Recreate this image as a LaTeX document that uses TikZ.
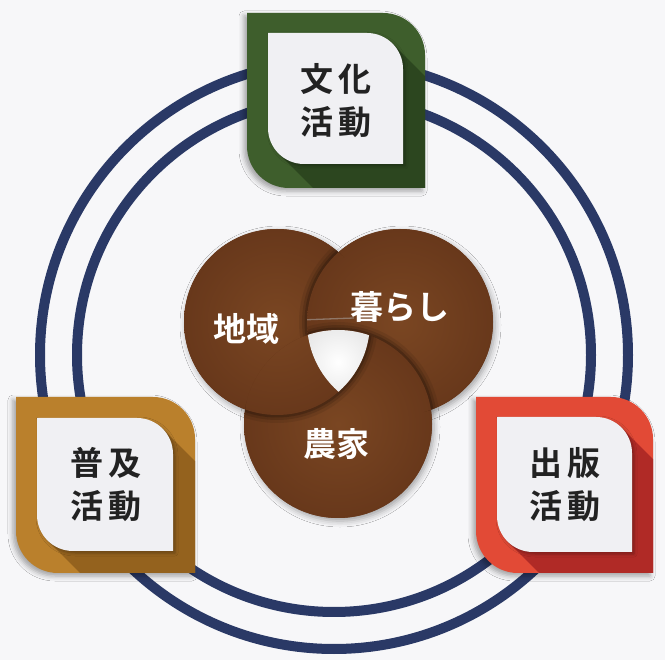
\documentclass[tikz,border=0pt]{standalone}
\usepackage{fontspec}
\newfontfamily\cjkb{Noto Sans CJK JP Bold}
\usetikzlibrary{shadows.blur}
\definecolor{bg}{RGB}{247,247,249}
\definecolor{ringc}{RGB}{42,57,102}
\definecolor{brn}{RGB}{104,56,27}
\definecolor{brnl}{RGB}{122,70,34}
\definecolor{grn}{RGB}{62,94,44}
\definecolor{grnd}{RGB}{44,70,31}
\definecolor{gld}{RGB}{186,128,44}
\definecolor{gldd}{RGB}{148,98,30}
\definecolor{redc}{RGB}{226,74,54}
\definecolor{redd}{RGB}{176,42,38}
\definecolor{panelc}{RGB}{240,240,243}
\definecolor{txtc}{RGB}{34,34,34}
\newcommand\leaf[5]{(#1,#2) -- ({#3-#5},#2) .. controls ({#3-0.4477*#5},#2) and (#3,{#2+0.4477*#5}) .. (#3,{#2+#5}) -- (#3,#4) -- ({#1+#5},#4) .. controls ({#1+0.4477*#5},#4) and (#1,{#4-0.4477*#5}) .. (#1,{#4-#5}) -- cycle}
\newcommand\sweep[5]{({#3-0.2929*#5},{#2+0.2929*#5}) -- ({#3-0.2929*#5+250},{#2+0.2929*#5+250}) -- ({#1+0.2929*#5+250},{#4-0.2929*#5+250}) -- ({#1+0.2929*#5},{#4-0.2929*#5}) -- cycle}
\newcommand\cL{(277,322) circle[radius=93]}
\newcommand\cR{(400,322) circle[radius=93]}
\newcommand\cB{(338,424) circle[radius=94]}
\tikzset{
  boxtxt/.style={font=\cjkb\fontsize{33}{43}\selectfont, align=center, text=txtc, inner sep=0pt},
  cirtxt/.style={font=\cjkb\fontsize{33}{40}\selectfont, text=white, inner sep=0pt},
  cfill/.style={inner color=brnl, outer color=brn},
  ringline/.style={draw=ringc, line width=10pt},
}
\begin{document}
\begin{tikzpicture}[x=1pt,y=-1pt]
\fill[bg] (0,0) rectangle (665,660);
\useasboundingbox (0,0) rectangle (665,660);
% rings
\draw[ringline] (334,355) circle[radius=294];
\draw[ringline] (334,355) circle[radius=257];
% boxes
\foreach \a/\b/\c/\d/\p/\q/\s/\t/\col/\dk in {247/13/425/188/268/33/403/164/grn/grnd, 16/397/195/573/37/418/173/551/gld/gldd, 476/397/653/573/497/417/632/552/redc/redd} {
  \fill[\col, blur shadow={shadow xshift=-3pt, shadow yshift=-3pt, shadow blur radius=5pt, shadow opacity=35}] \leaf{\a}{\b}{\c}{\d}{42};
  \begin{scope}
    \clip \leaf{\a}{\b}{\c}{\d}{42};
    \fill[\dk] \sweep{\p}{\q}{\s}{\t}{36};
  \end{scope}
  \fill[panelc, blur shadow={shadow xshift=2pt, shadow yshift=-2pt, shadow blur radius=3pt, shadow opacity=30}] \leaf{\p}{\q}{\s}{\t}{36};
}
% central circles
\fill[brn, blur shadow={shadow xshift=2pt, shadow yshift=-3pt, shadow blur radius=6pt, shadow opacity=35}] \cL;
\fill[brn, blur shadow={shadow xshift=2pt, shadow yshift=-3pt, shadow blur radius=6pt, shadow opacity=35}] \cR;
\fill[brn, blur shadow={shadow xshift=2pt, shadow yshift=-3pt, shadow blur radius=6pt, shadow opacity=35}] \cB;
\shade[cfill] \cL;
\shade[cfill] \cR;
\shade[cfill] \cB;
% weave: R over L
\begin{scope}
  \clip \cL;
  \foreach \w/\o in {16/0.08, 10/0.12, 5/0.18} \draw[line width=\w pt, black, opacity=\o] \cR;
  \shade[cfill] \cR;
\end{scope}
% B over R
\begin{scope}
  \clip \cR;
  \foreach \w/\o in {16/0.08, 10/0.12, 5/0.18} \draw[line width=\w pt, black, opacity=\o] \cB;
  \shade[cfill] \cB;
\end{scope}
% L over B
\begin{scope}
  \clip \cB;
  \foreach \w/\o in {16/0.08, 10/0.12, 5/0.18} \draw[line width=\w pt, black, opacity=\o] \cL;
  \shade[cfill] \cL;
\end{scope}
% hole
\begin{scope}
  \clip \cL;
  \clip \cR;
  \clip \cB;
  \shade[inner color=white, outer color=black!12] (338,362) circle[radius=50];
\end{scope}
\begin{scope}
  \clip \cR;
  \draw[gray!60, opacity=0.5, line width=1.3pt] (300,320) -- (354,318);
\end{scope}
% texts
\node[cirtxt] (chiiki) at (246,329) {地域};
\node[cirtxt] (kurashi) at (400,307) {暮らし};
\node[cirtxt] (nouka) at (336,444) {農家};
\node[boxtxt] (bunka) at (336,101) {文\hspace{6pt}化\\活\hspace{6pt}動};
\node[boxtxt] (fukyu) at (106,485) {普\hspace{6pt}及\\活\hspace{6pt}動};
\node[boxtxt] (shuppan) at (565,485) {出\hspace{6pt}版\\活\hspace{6pt}動};
\end{tikzpicture}
\end{document}
